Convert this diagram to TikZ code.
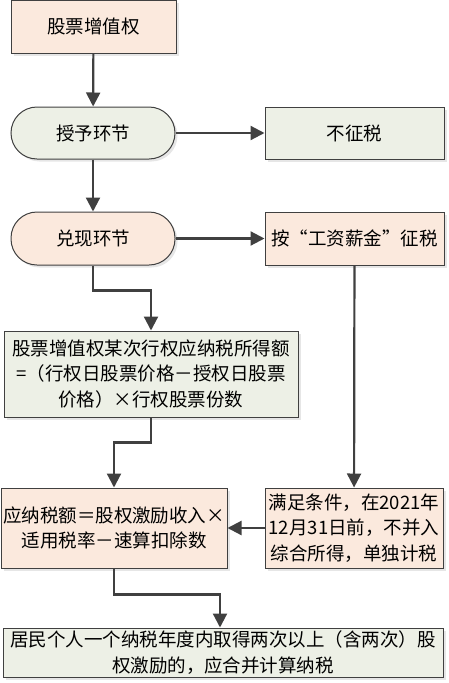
\documentclass[tikz,border=0pt]{standalone}
\usepackage{fontspec}
\setmainfont{Noto Sans CJK SC}
\usetikzlibrary{arrows.meta,shadows}

\definecolor{peach}{RGB}{251,233,221}
\definecolor{sage}{RGB}{237,240,230}
\definecolor{edgegray}{RGB}{64,64,64}

\begin{document}
\begin{tikzpicture}[x=1pt,y=-1pt,
>={Triangle[length=14pt,width=14pt]},
font=\fontsize{18.5}{25.5}\selectfont,
box/.style={draw=edgegray,line width=1pt,inner sep=2pt,align=center,
  drop shadow={opacity=0.2,shadow xshift=2.5pt,shadow yshift=-2.5pt}},
stage/.style={box,rounded corners=26pt},
flow/.style={->,draw=edgegray,line width=2.2pt}]
\useasboundingbox (0,0) rectangle (448,683);
% left column
\node[box,fill=peach,minimum width=165pt,minimum height=53pt] (sv) at (93.5,26.5) {股票增值权};
\node[stage,fill=sage,minimum width=164pt,minimum height=52pt] (gr) at (93,133) {授予环节};
\node[stage,fill=peach,minimum width=164pt,minimum height=53pt] (dx) at (93,238.5) {兑现环节};
\node[box,fill=sage,minimum width=294pt,minimum height=86pt] (sd) at (151,374)
  {股票增值权某次行权应纳税所得额\\=（行权日股票价格－授权日股票\\价格）×行权股票份数};
\node[box,fill=peach,minimum width=222pt,minimum height=80pt] (yn) at (114,528)
  {应纳税额＝股权激励收入×\\适用税率－速算扣除数};
% right column
\node[box,fill=sage,minimum width=179pt,minimum height=52pt] (bz) at (354.5,133) {不征税};
\node[box,fill=peach,minimum width=179pt,minimum height=53pt] (gz) at (354.5,238.5) {按“工资薪金”征税};
\node[box,fill=peach,minimum width=178pt,minimum height=80pt] (mz) at (354,528)
  {满足条件，在2021年\\12月31日前，不并入\\综合所得，单独计税};
% bottom
\node[box,fill=sage,minimum width=440pt,minimum height=49pt] (jm) at (223,652.5)
  {居民个人一个纳税年度内取得两次以上（含两次）股\\权激励的，应合并计算纳税};

\draw[flow] (sv) -- (gr);
\draw[flow] (gr) -- (bz);
\draw[flow] (gr) -- (dx);
\draw[flow] (dx) -- (gz);
\draw[flow] (dx.south) -- ++(0,25) -| (sd.north);
\draw[flow] (sd.south) -- ++(0,25) -| (yn.north);
\draw[flow] (gz) -- (mz);
\draw[flow] (mz) -- (yn);
\draw[flow] (yn.south) -- ++(0,26) -| ([xshift=-3pt]jm.north);
\end{tikzpicture}
\end{document}
